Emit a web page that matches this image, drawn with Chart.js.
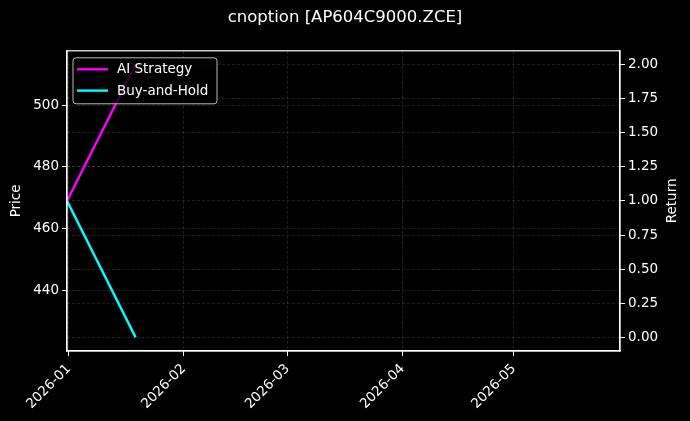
<!DOCTYPE html>
<html>
<head>
<meta charset="utf-8">
<script src="https://cdn.jsdelivr.net/npm/chart.js@4/dist/chart.umd.min.js"></script>
<style>
  html, body { margin: 0; padding: 0; background: #000; }
  #wrap { width: 690px; height: 421px; }
</style>
</head>
<body>
<div id="wrap"><canvas id="chart" width="690" height="421"></canvas></div>
<script>
// chart data
const dates = ['2025-12-31T12:00:00Z', '2026-01-19T00:00:00Z'];
const aiStrategy = [1.0, 2.0];
const buyAndHold = [1.0, 0.0];
const seriesNames = ['AI Strategy', 'Buy-and-Hold'];
const seriesColors = ['#ff00ff', '#00ffff'];

// axis ticks and limits
const monthTicks = ['2026-01-01', '2026-02-01', '2026-03-01', '2026-04-01', '2026-05-01'];
const priceTicks = [440, 460, 480, 500];
const returnTicks = [0, 0.25, 0.5, 0.75, 1.0, 1.25, 1.5, 1.75, 2.0];
const xRange = ['2025-12-31T12:00:00Z', '2026-05-29T15:00:00Z'];
const priceRange = [420.3, 517.7];
const returnRange = [-0.1, 2.1];

const FONT = "'DejaVu Sans', sans-serif";
const toMs = d => Date.parse(d.length === 10 ? d + 'T00:00:00Z' : d);

function fmtMonth(v) {
    const d = new Date(v);
    return d.getUTCFullYear() + '-' + String(d.getUTCMonth() + 1).padStart(2, '0');
}

const gridStyle = {
    color: 'rgba(255,255,255,0.18)',
    lineWidth: 0.7,
    tickColor: '#ffffff',
    tickLength: 5,
    tickWidth: 1,
    tickBorderDash: []
};
const borderStyle = { color: '#ffffff', width: 1.2, dash: [3, 2] };
const tickFont = { family: FONT, size: 13.5 };

// black background, top spine, right axis label, legend inside the plot
const decorations = {
    id: 'decorations',
    beforeDraw(chart) {
        const ctx = chart.ctx;
        ctx.save();
        ctx.fillStyle = '#000';
        ctx.fillRect(0, 0, chart.width, chart.height);
        ctx.restore();
    },
    afterDraw(chart) {
        const ctx = chart.ctx;
        const a = chart.chartArea;
        ctx.save();
        ctx.strokeStyle = '#ffffff';
        ctx.lineWidth = 1.2;
        ctx.strokeRect(a.left, a.top, a.right - a.left, a.bottom - a.top);

        // right axis title, reading bottom to top
        ctx.fillStyle = '#ffffff';
        ctx.font = '13.5px ' + FONT;
        ctx.textAlign = 'center';
        ctx.textBaseline = 'middle';
        ctx.translate(672, (a.top + a.bottom) / 2);
        ctx.rotate(-Math.PI / 2);
        ctx.fillText('Return', 0, 0);
        ctx.restore();

        // legend
        ctx.save();
        const bx = a.left + 6, by = a.top + 7, bw = 144, bh = 46;
        ctx.beginPath();
        ctx.roundRect(bx, by, bw, bh, 3);
        ctx.fillStyle = 'rgba(0,0,0,0.8)';
        ctx.fill();
        ctx.strokeStyle = 'rgba(204,204,204,0.9)';
        ctx.lineWidth = 1;
        ctx.stroke();
        ctx.font = '13.5px ' + FONT;
        ctx.textBaseline = 'middle';
        ctx.textAlign = 'left';
        chart.data.datasets.forEach((ds, i) => {
            const y = by + 11.5 + i * 21.3;
            ctx.strokeStyle = ds.borderColor;
            ctx.lineWidth = 2.4;
            ctx.beginPath();
            ctx.moveTo(bx + 4, y);
            ctx.lineTo(bx + 35, y);
            ctx.stroke();
            ctx.fillStyle = '#ffffff';
            ctx.fillText(ds.label, bx + 44, y + 0.5);
        });
        ctx.restore();
    }
};

new Chart(document.getElementById('chart'), {
    type: 'line',
    data: {
        datasets: [
            {
                label: seriesNames[0],
                data: dates.map((d, i) => ({ x: toMs(d), y: aiStrategy[i] })),
                borderColor: seriesColors[0],
                yAxisID: 'ret'
            },
            {
                label: seriesNames[1],
                data: dates.map((d, i) => ({ x: toMs(d), y: buyAndHold[i] })),
                borderColor: seriesColors[1],
                yAxisID: 'ret'
            }
        ]
    },
    options: {
        responsive: false,
        animation: false,
        devicePixelRatio: 1,
        layout: { padding: { left: 0, right: 0, top: 0, bottom: 0 } },
        elements: {
            line: { borderWidth: 2.4, tension: 0 },
            point: { radius: 0 }
        },
        plugins: {
            legend: { display: false },
            tooltip: { enabled: false },
            title: {
                display: true,
                text: 'cnoption [AP604C9000.ZCE]',
                color: '#ffffff',
                font: { family: FONT, size: 16.5, weight: 'normal' },
                padding: { top: 8, bottom: 23 }
            }
        },
        scales: {
            x: {
                type: 'linear',
                min: toMs(xRange[0]),
                max: toMs(xRange[1]),
                afterBuildTicks: s => { s.ticks = monthTicks.map(m => ({ value: toMs(m) })); },
                afterFit: s => { s.height = 70; },
                ticks: {
                    color: '#ffffff',
                    font: tickFont,
                    maxRotation: 45,
                    minRotation: 45,
                    padding: 5,
                    callback: v => fmtMonth(v)
                },
                grid: gridStyle,
                border: borderStyle
            },
            price: {
                type: 'linear',
                position: 'left',
                min: priceRange[0],
                max: priceRange[1],
                afterBuildTicks: s => { s.ticks = priceTicks.map(v => ({ value: v })); },
                afterFit: s => { s.width = 67; },
                title: {
                    display: true,
                    text: 'Price',
                    color: '#ffffff',
                    font: { family: FONT, size: 13.5 },
                    padding: { top: 8, bottom: 2 }
                },
                ticks: { color: '#ffffff', font: tickFont, padding: 3 },
                grid: gridStyle,
                border: borderStyle
            },
            ret: {
                type: 'linear',
                position: 'right',
                min: returnRange[0],
                max: returnRange[1],
                afterBuildTicks: s => { s.ticks = returnTicks.map(v => ({ value: v })); },
                afterFit: s => { s.width = 70; },
                ticks: {
                    color: '#ffffff',
                    font: tickFont,
                    padding: 3,
                    callback: v => v.toFixed(2)
                },
                grid: gridStyle,
                border: borderStyle
            }
        }
    },
    plugins: [decorations]
});
</script>
</body>
</html>
